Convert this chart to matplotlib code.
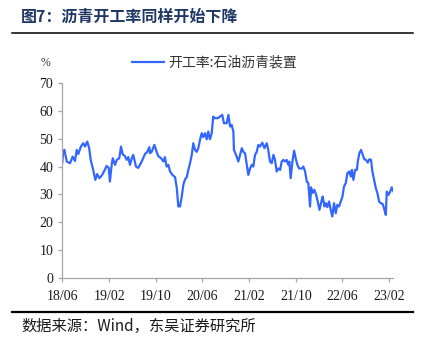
import matplotlib
matplotlib.use('Agg')
import matplotlib.pyplot as plt
import matplotlib.dates as mdates
from matplotlib.lines import Line2D
import pandas as pd

# 开工率:石油沥青装置 (%), weekly
dates = [
    '2018-06-01', '2018-06-06', '2018-06-12', '2018-06-24', '2018-07-11', '2018-07-25',
    '2018-08-06', '2018-08-15', '2018-08-23', '2018-09-06', '2018-09-18', '2018-09-27',
    '2018-10-09', '2018-10-19', '2018-10-27', '2018-11-09', '2018-11-20', '2018-11-30',
    '2018-12-11', '2018-12-23', '2019-01-04', '2019-01-18', '2019-01-29', '2019-02-04',
    '2019-02-13', '2019-02-19', '2019-03-03', '2019-03-12', '2019-03-25', '2019-04-03',
    '2019-04-12', '2019-04-24', '2019-05-03', '2019-05-11', '2019-05-20', '2019-05-29',
    '2019-06-06', '2019-06-20', '2019-07-02', '2019-07-20', '2019-08-06', '2019-08-18',
    '2019-08-29', '2019-09-01', '2019-09-10', '2019-09-24', '2019-10-06', '2019-10-14',
    '2019-10-29', '2019-11-10', '2019-11-18', '2019-11-27', '2019-12-06', '2019-12-15',
    '2019-12-27', '2020-01-10', '2020-01-19', '2020-01-27', '2020-02-05', '2020-02-14',
    '2020-02-22', '2020-03-02', '2020-03-11', '2020-03-19', '2020-03-28', '2020-04-06',
    '2020-04-14', '2020-04-23', '2020-05-02', '2020-05-10', '2020-05-19', '2020-05-28',
    '2020-06-05', '2020-06-14', '2020-06-23', '2020-07-01', '2020-07-10', '2020-07-19',
    '2020-07-27', '2020-08-05', '2020-08-19', '2020-08-31', '2020-09-12', '2020-09-21',
    '2020-10-05', '2020-10-14', '2020-10-23', '2020-10-31', '2020-11-09', '2020-11-12',
    '2020-11-23', '2020-12-05', '2020-12-14', '2020-12-23', '2020-12-31', '2021-01-09',
    '2021-01-18', '2021-01-26', '2021-02-04', '2021-02-13', '2021-02-21', '2021-03-02',
    '2021-03-11', '2021-03-19', '2021-03-28', '2021-04-09', '2021-04-20', '2021-05-02',
    '2021-05-10', '2021-05-19', '2021-05-28', '2021-06-06', '2021-06-14', '2021-06-23',
    '2021-07-02', '2021-07-11', '2021-07-19', '2021-07-28', '2021-08-06', '2021-08-14',
    '2021-08-23', '2021-08-28', '2021-09-04', '2021-09-13', '2021-09-22', '2021-09-30',
    '2021-10-09', '2021-10-18', '2021-11-01', '2021-11-09', '2021-11-18', '2021-11-27',
    '2021-12-05', '2021-12-14', '2021-12-19', '2021-12-28', '2022-01-05', '2022-01-14',
    '2022-01-23', '2022-02-01', '2022-02-13', '2022-02-18', '2022-02-27', '2022-03-06',
    '2022-03-14', '2022-03-23', '2022-04-01', '2022-04-09', '2022-04-18', '2022-04-27',
    '2022-05-05', '2022-05-14', '2022-05-23', '2022-06-01', '2022-06-09', '2022-06-18',
    '2022-06-27', '2022-07-06', '2022-07-15', '2022-07-20', '2022-07-28', '2022-08-06',
    '2022-08-15', '2022-08-20', '2022-08-28', '2022-09-06', '2022-09-15', '2022-09-23',
    '2022-10-02', '2022-10-11', '2022-10-19', '2022-10-28', '2022-11-04', '2022-11-13',
    '2022-11-22', '2022-11-30', '2022-12-09', '2022-12-18', '2022-12-28', '2023-01-06',
    '2023-01-13', '2023-01-18', '2023-01-27', '2023-02-05', '2023-02-13', '2023-02-22',
]
rate = [
    41.5, 45.5, 46.0, 41.8, 41.2, 43.6, 42.0, 46.0, 44.5, 47.2, 48.4, 47.2,
    49.0, 46.6, 42.4, 38.8, 35.2, 37.3, 35.8, 36.7, 38.2, 40.2, 39.5, 34.6,
    40.4, 43.0, 40.6, 42.4, 43.0, 47.2, 44.4, 43.7, 42.4, 43.4, 40.6, 43.0,
    44.2, 40.0, 39.5, 41.8, 44.5, 45.3, 47.0, 44.8, 45.3, 47.8, 45.3, 43.8,
    43.0, 41.8, 43.4, 40.0, 40.6, 38.2, 37.0, 36.2, 32.2, 25.6, 25.7, 29.2,
    33.4, 35.4, 36.2, 38.8, 41.2, 44.2, 48.4, 46.0, 45.3, 46.6, 49.6, 52.0,
    50.6, 52.0, 49.8, 52.6, 49.8, 52.0, 58.0, 57.4, 57.4, 58.0, 58.6, 55.6,
    55.6, 58.6, 54.4, 55.0, 52.6, 46.0, 44.2, 41.8, 44.2, 46.6, 45.3, 44.8,
    40.6, 37.0, 39.3, 40.6, 40.0, 44.2, 45.3, 47.8, 47.2, 48.6, 46.6, 48.4,
    46.0, 41.8, 41.2, 44.2, 42.4, 38.2, 39.3, 38.8, 41.8, 42.4, 41.8, 42.4,
    40.6, 41.8, 35.8, 41.8, 45.7, 43.0, 40.6, 39.3, 39.3, 40.0, 38.2, 34.6,
    34.0, 25.6, 32.5, 30.5, 31.6, 30.0, 27.4, 24.4, 28.0, 29.2, 25.6, 26.8,
    25.4, 27.4, 24.4, 22.0, 26.8, 23.2, 26.2, 25.6, 27.4, 29.2, 32.8, 34.0,
    37.6, 38.2, 36.4, 38.8, 35.2, 38.8, 38.8, 41.8, 44.8, 46.0, 44.2, 42.6,
    42.4, 41.4, 42.6, 42.4, 38.2, 35.2, 32.2, 30.5, 27.4, 26.8, 26.5, 24.4,
    22.6, 31.0, 29.8, 31.0, 32.5, 31.0,
]
series_name = '开工率:石油沥青装置'
title = '图7：沥青开工率同样开始下降'
source = '数据来源：Wind，东吴证券研究所'

cjk = ['Noto Sans CJK SC', 'DejaVu Sans']
x = pd.to_datetime(dates)

fig = plt.figure(figsize=(4.24, 3.44), dpi=100)
ax = fig.add_axes([0.147, 0.193, 0.781, 0.565])

ax.plot(x, rate, color='#3366ff', lw=1.6, label=series_name)

ax.set_ylim(0, 70)
ax.set_yticks(range(0, 71, 10))
ax.set_xlim(pd.Timestamp('2018-06-01'), x[-1])
ax.set_xticks(pd.date_range('2018-06-01', '2023-02-01', freq='8MS'))
ax.xaxis.set_major_formatter(mdates.DateFormatter('%y/%m'))

for s in ['top', 'right']:
    ax.spines[s].set_visible(False)
for s in ['left', 'bottom']:
    ax.spines[s].set_color('#a6a6a6')
    ax.spines[s].set_linewidth(0.9)
ax.tick_params(colors='#a6a6a6', length=3, width=0.9, labelcolor='#1a1a1a',
               labelsize=10)
ax.tick_params(axis='x', pad=6)
for lab in ax.get_xticklabels() + ax.get_yticklabels():
    lab.set_fontfamily('Liberation Serif')

fig.text(0.108, 0.818, '%', fontsize=8.5, family='Liberation Serif',
         color='#333333', ha='center', va='center')

fig.legend(loc='center', bbox_to_anchor=(0.506, 0.818), frameon=False,
           handlelength=2.3, handletextpad=0.3, prop={'family': cjk, 'size': 10},
           labelcolor='#333333')

fig.text(0.05, 0.952, title, fontsize=11.5, fontweight='bold', family=cjk,
         color='#1f3864', ha='left', va='center')
fig.add_artist(Line2D([0.028, 0.975], [0.905, 0.905], color='black', lw=1.1,
                      transform=fig.transFigure))
fig.add_artist(Line2D([0.028, 0.975], [0.094, 0.094], color='black', lw=1.6,
                      transform=fig.transFigure))
fig.text(0.05, 0.05, source, fontsize=11, family=cjk, color='#1a1a1a',
         ha='left', va='center')

fig.savefig('out.png', dpi=100)
